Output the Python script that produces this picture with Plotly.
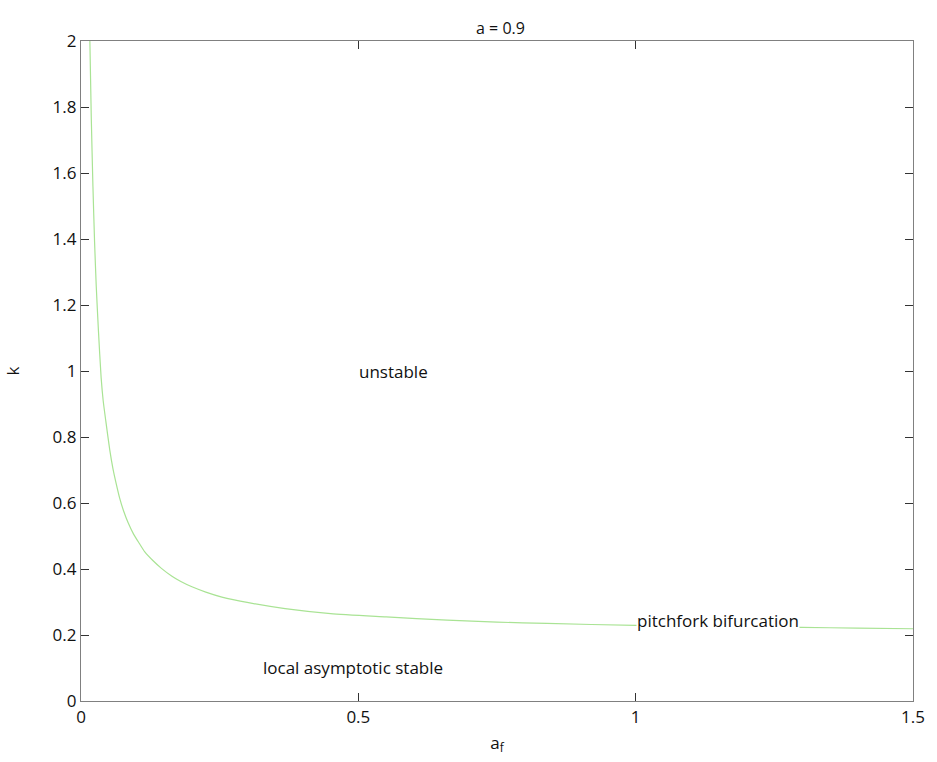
import plotly.graph_objects as go

# curve
a_f = [0.016, 0.0185, 0.0215, 0.0245, 0.0274, 0.0315, 0.0363, 0.040, 0.045, 0.0519,
       0.0575, 0.0626, 0.0697, 0.077, 0.085, 0.095, 0.105, 0.115, 0.13, 0.145,
       0.164, 0.18, 0.2, 0.225, 0.254, 0.302, 0.368, 0.45, 0.55,
       0.66, 0.75, 0.84, 1.0, 1.1, 1.2, 1.3, 1.4, 1.5]
k = [2.0, 1.77, 1.56, 1.39, 1.26, 1.12, 0.98, 0.91, 0.845, 0.76,
     0.705, 0.665, 0.615, 0.575, 0.54, 0.505, 0.478, 0.452, 0.425, 0.402,
     0.378, 0.362, 0.346, 0.330, 0.315, 0.298, 0.280, 0.265, 0.255,
     0.245, 0.239, 0.235, 0.229, 0.227, 0.225, 0.223, 0.221, 0.219]

x_ticks = [0, 0.5, 1, 1.5]
x_tick_labels = ["0", "0.5", "1", "1.5"]
y_ticks = [0, 0.2, 0.4, 0.6, 0.8, 1, 1.2, 1.4, 1.6, 1.8, 2]
y_tick_labels = ["0", "0.2", "0.4", "0.6", "0.8", "1", "1.2", "1.4", "1.6", "1.8", "2"]

labels = ["unstable", "local asymptotic stable", "pitchfork bifurcation"]
label_x = [0.5, 0.327, 1.0]
label_y = [1.0, 0.103, 0.243]

FONT = "Open Sans, sans-serif"
TXT = "#111111"

fig = go.Figure()
fig.add_trace(go.Scatter(x=a_f, y=k, mode="lines",
                         line=dict(color="#a9e394", width=1.2, shape="spline", smoothing=0.6),
                         showlegend=False, hoverinfo="skip"))

for i, t in enumerate(labels):
    fig.add_annotation(x=label_x[i], y=label_y[i], text=t, showarrow=False,
                       xanchor="left", yanchor="middle",
                       font=dict(family=FONT, size=17, color=TXT),
                       bgcolor="white" if i == 2 else "rgba(0,0,0,0)",
                       borderpad=0)

axis_common = dict(showline=True, linecolor="#808080", linewidth=1.2,
                   mirror="ticks", ticks="inside", ticklen=8,
                   tickcolor="#333333", tickwidth=1, showgrid=False,
                   zeroline=False, ticklabeloverflow="allow",
                   tickfont=dict(family=FONT, size=17, color=TXT))

fig.update_xaxes(range=[0, 1.5], tickvals=x_ticks, ticktext=x_tick_labels,
                 title=dict(text="a<sub>f</sub>", font=dict(family=FONT, size=17, color=TXT), standoff=10),
                 **axis_common)
fig.update_yaxes(range=[0, 2], tickvals=y_ticks, ticktext=y_tick_labels,
                 title=dict(text="k", font=dict(family=FONT, size=17, color=TXT), standoff=28),
                 **axis_common)

W, H = 937, 762
ML, MR, MT, MB = 81, 17, 41, 61
fig.update_layout(
    width=W, height=H,
    margin=dict(l=ML, r=MR, t=MT, b=MB),
    paper_bgcolor="white", plot_bgcolor="white",
    hovermode=False,
    title=dict(text="a = 0.9", x=(ML + (W - MR)) / 2 / W, xanchor="center",
               y=1 - 28 / H, yanchor="middle",
               font=dict(family=FONT, size=16, color=TXT)),
)

fig.write_html("out.html",
               config={"displayModeBar": False},
               post_script="document.body.style.margin='0px';document.body.style.overflow='hidden';")
